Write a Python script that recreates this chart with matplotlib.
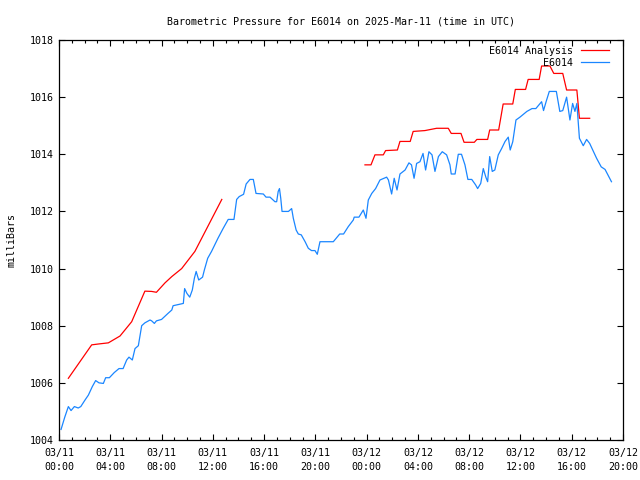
import numpy as np
import matplotlib
matplotlib.use('Agg')
import matplotlib.pyplot as plt
from matplotlib.ticker import MultipleLocator

# Heures depuis 03/11 00:00 UTC et pression (mb)
obs_h = [0.16, 0.45, 0.73, 0.94, 1.2, 1.5, 1.7, 2.03, 2.29, 2.6, 2.86, 3.12, 3.46, 3.64,
         3.93, 4.31, 4.68, 5.0, 5.28, 5.46, 5.72, 5.93, 6.19, 6.45, 6.7, 7.1, 7.23, 7.44,
         7.6, 8.0, 8.5, 8.8, 8.9, 9.7, 9.8, 9.98, 10.2, 10.4, 10.56, 10.7, 10.9, 11.2,
         11.34, 11.6, 11.9, 12.4, 12.8, 13.2, 13.65, 13.86, 14.06, 14.4, 14.6, 14.9,
         15.16, 15.37, 15.94, 16.15, 16.46, 16.85, 16.98, 17.1, 17.2, 17.3, 17.4, 17.9,
         18.15, 18.28, 18.5, 18.67, 18.9, 19.2, 19.45, 19.7, 19.97, 20.15, 20.36, 21.4,
         21.9, 22.2, 22.57, 22.96, 23.03, 23.4, 23.74, 23.95, 24.13, 24.4, 24.7, 25.04,
         25.56, 25.7, 25.95, 26.15, 26.37, 26.6, 27.0, 27.3, 27.5, 27.7, 27.9, 28.16,
         28.4, 28.6, 28.86, 29.1, 29.33, 29.6, 29.9, 30.24, 30.5, 30.6, 30.9, 31.15,
         31.4, 31.67, 31.9, 32.2, 32.5, 32.66, 32.9, 33.1, 33.3, 33.44, 33.6, 33.8, 34.0,
         34.27, 34.53, 34.8, 35.05, 35.2, 35.4, 35.65, 35.96, 36.5, 36.9, 37.2, 37.65,
         37.8, 38.0, 38.25, 38.8, 39.07, 39.3, 39.5, 39.6, 39.86, 40.07, 40.25, 40.4,
         40.6, 40.9, 41.16, 41.4, 41.94, 42.3, 42.6, 43.1]
obs_p = [1004.37, 1004.8, 1005.17, 1005.03, 1005.17, 1005.12, 1005.17, 1005.4, 1005.57,
         1005.87, 1006.08, 1006.0, 1005.98, 1006.18, 1006.18, 1006.36, 1006.5, 1006.5,
         1006.8, 1006.9, 1006.8, 1007.2, 1007.3, 1008.0, 1008.1, 1008.2, 1008.17, 1008.08,
         1008.17, 1008.22, 1008.43, 1008.55, 1008.7, 1008.78, 1009.3, 1009.13, 1009.0,
         1009.25, 1009.66, 1009.9, 1009.6, 1009.7, 1009.95, 1010.36, 1010.6, 1011.06,
         1011.4, 1011.72, 1011.72, 1012.42, 1012.52, 1012.6, 1012.96, 1013.12, 1013.12,
         1012.63, 1012.61, 1012.5, 1012.5, 1012.34, 1012.34, 1012.7, 1012.8, 1012.46,
         1012.0, 1012.0, 1012.1, 1011.76, 1011.35, 1011.21, 1011.18, 1010.94, 1010.71,
         1010.63, 1010.63, 1010.5, 1010.94, 1010.94, 1011.21, 1011.21, 1011.47, 1011.7,
         1011.8, 1011.8, 1012.05, 1011.76, 1012.4, 1012.63, 1012.8, 1013.1, 1013.2,
         1013.1, 1012.61, 1013.16, 1012.75, 1013.31, 1013.45, 1013.7, 1013.63, 1013.16,
         1013.68, 1013.74, 1014.03, 1013.45, 1014.09, 1013.98, 1013.4, 1013.92, 1014.09,
         1013.98, 1013.63, 1013.31, 1013.31, 1014.0, 1014.0, 1013.63, 1013.12, 1013.12,
         1012.93, 1012.8, 1012.98, 1013.5, 1013.2, 1013.04, 1013.92, 1013.4, 1013.45,
         1013.98, 1014.2, 1014.45, 1014.6, 1014.15, 1014.44, 1015.2, 1015.3, 1015.5,
         1015.6, 1015.6, 1015.84, 1015.53, 1015.84, 1016.2, 1016.2, 1015.5, 1015.53,
         1015.84, 1016.0, 1015.2, 1015.78, 1015.5, 1015.78, 1014.56, 1014.3, 1014.52,
         1014.38, 1013.86, 1013.56, 1013.47, 1013.04]

# Analyse (nan = trou dans la série)
ana_h = [0.73, 2.55, 3.07, 3.85, 4.76, 5.67, 6.7, 7.23, 7.6, 8.27, 8.8, 9.57, 10.6, 12.7,
         np.nan,
         23.87, 24.34, 24.65, 25.3, 25.48, 26.4, 26.6, 27.4, 27.63, 28.55, 29.46, 30.37,
         30.6, 31.36, 31.6, 32.4, 32.6, 33.44, 33.6, 34.3, 34.65, 35.4, 35.6, 36.4, 36.6,
         37.46, 37.65, 38.3, 38.6, 39.3, 39.6, 40.4, 40.6, 41.4]
ana_p = [1006.16, 1007.33, 1007.36, 1007.4, 1007.64, 1008.14, 1009.21, 1009.2, 1009.17,
         1009.5, 1009.72, 1010.0, 1010.6, 1012.42,
         np.nan,
         1013.63, 1013.63, 1013.98, 1013.98, 1014.13, 1014.15, 1014.45, 1014.45, 1014.8,
         1014.83, 1014.91, 1014.91, 1014.73, 1014.73, 1014.42, 1014.42, 1014.52, 1014.52,
         1014.85, 1014.85, 1015.76, 1015.76, 1016.27, 1016.27, 1016.62, 1016.62, 1017.09,
         1017.09, 1016.83, 1016.83, 1016.25, 1016.25, 1015.26, 1015.26]

tick_h = [0, 4, 8, 12, 16, 20, 24, 28, 32, 36, 40, 44]
tick_labels = ['03/11\n00:00', '03/11\n04:00', '03/11\n08:00', '03/11\n12:00',
               '03/11\n16:00', '03/11\n20:00', '03/12\n00:00', '03/12\n04:00',
               '03/12\n08:00', '03/12\n12:00', '03/12\n16:00', '03/12\n20:00']

plt.rcParams['font.family'] = ['DejaVu Sans Mono']
plt.rcParams['font.size'] = 7.2

fig = plt.figure(figsize=(6.4, 4.8), dpi=100)
ax = fig.add_axes([59 / 640, 40 / 480, 564 / 640, 400 / 480])

ax.plot(ana_h, ana_p, color='#ff0000', lw=0.9, label='E6014 Analysis')
ax.plot(obs_h, obs_p, color='#1a86ff', lw=0.9, label='E6014')

ax.set_xlim(0, 44)
ax.set_ylim(1004, 1018)
ax.set_xticks(tick_h)
ax.set_xticklabels(tick_labels, linespacing=1.5)
ax.xaxis.set_minor_locator(MultipleLocator(1))
ax.set_yticks(range(1004, 1019, 2))
ax.tick_params(which='both', direction='in', top=True, right=True)
ax.tick_params(axis='x', which='major', pad=6)
ax.tick_params(axis='y', which='major', pad=4)
ax.tick_params(which='major', length=4.5, width=0.8)
ax.tick_params(which='minor', length=2.2, width=0.8)
for s in ax.spines.values():
    s.set_linewidth(0.9)

ax.set_ylabel('milliBars', labelpad=9)
ax.set_title('Barometric Pressure for E6014 on 2025-Mar-11 (time in UTC)',
             fontsize=7.2, pad=11)

leg = ax.legend(loc='upper right', frameon=False, markerfirst=False,
                handlelength=2.8, handletextpad=0.8, labelspacing=0.2,
                borderaxespad=0, bbox_to_anchor=(0.982, 0.996))
for t in leg.get_texts():
    t.set_ha('right')

fig.savefig('out.png', dpi=100)
